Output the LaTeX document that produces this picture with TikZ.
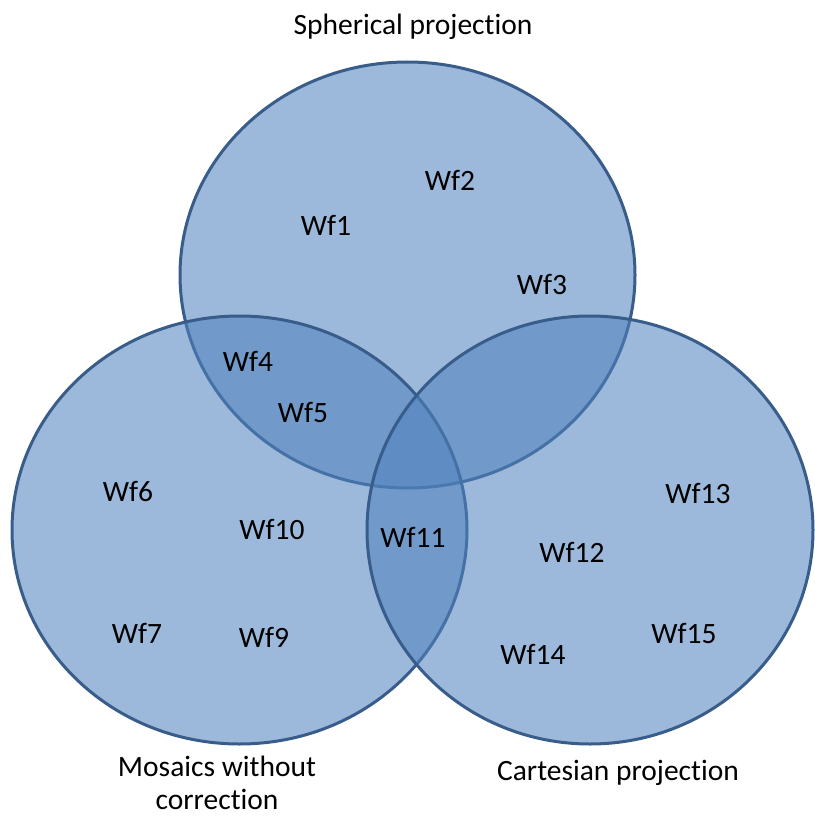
\documentclass[tikz,border=0pt]{standalone}
\usepackage{fontspec}
\setmainfont{Carlito}[RawFeature={-liga;-clig;-dlig}]
\begin{document}
\definecolor{vennfill}{HTML}{4F81BD}
\definecolor{vennline}{HTML}{385D8A}
\begin{tikzpicture}[x=1pt,y=-1pt,
  setcircle/.style={fill=vennfill,fill opacity=0.56,draw=vennline,draw opacity=1,line width=3pt},
  lbl/.style={anchor=base,inner sep=0pt,font=\fontsize{29.5}{33}\selectfont,text=black},
  title/.style={lbl,align=center}]
\useasboundingbox (0,0) rectangle (814,816);
% the three sets
\draw[setcircle] (407.5,275) ellipse [x radius=227.5,y radius=213];
\draw[setcircle] (239.5,530) ellipse [x radius=227.5,y radius=214];
\draw[setcircle] (590,530) ellipse [x radius=223,y radius=214];
% set titles (a two-line title sits on its last baseline)
\node[title] (sph) at (413,35) {Spherical projection};
\node[title] (mos) at (217,809) {Mosaics without\\correction};
\node[title] (car) at (618,780) {Cartesian projection};
% elements
\node[lbl] (w1) at (326,235) {Wf1};
\node[lbl] (w2) at (450,190) {Wf2};
\node[lbl] (w3) at (542,294) {Wf3};
\node[lbl] (w4) at (248,371) {Wf4};
\node[lbl] (w5) at (303,422) {Wf5};
\node[lbl] (w6) at (128,501) {Wf6};
\node[lbl] (w10) at (272,539) {Wf10};
\node[lbl] (w11) at (413,547) {Wf11};
\node[lbl] (w12) at (572,562) {Wf12};
\node[lbl] (w13) at (698,503) {Wf13};
\node[lbl] (w7) at (137,643) {Wf7};
\node[lbl] (w9) at (264,647) {Wf9};
\node[lbl] (w14) at (533,664) {Wf14};
\node[lbl] (w15) at (684,643) {Wf15};
\end{tikzpicture}
\end{document}
